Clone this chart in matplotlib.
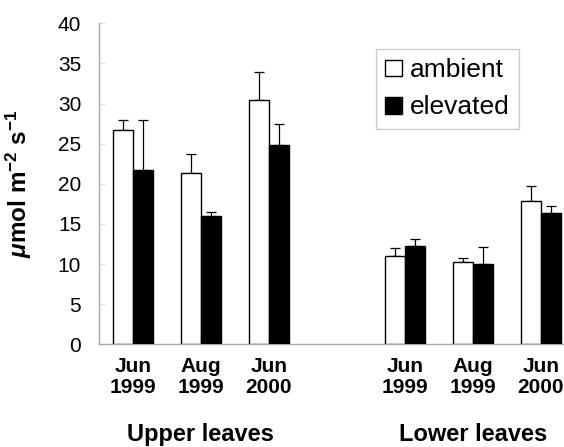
import numpy as np
import matplotlib
matplotlib.use("Agg")
import matplotlib.pyplot as plt

plt.rcParams['font.family'] = ['Liberation Sans', 'DejaVu Sans']
plt.rcParams['mathtext.fontset'] = 'custom'
plt.rcParams['mathtext.rm'] = 'Liberation Sans:bold'
plt.rcParams['mathtext.bf'] = 'Liberation Sans:bold'
plt.rcParams['mathtext.it'] = 'Liberation Sans:italic:bold'

# ---- data ----
tick_labels = ["Jun\n1999", "Aug\n1999", "Jun\n2000", "Jun\n1999", "Aug\n1999", "Jun\n2000"]
group_labels = ["Upper leaves", "Lower leaves"]
series_names = ["ambient", "elevated"]
ambient = [26.7, 21.4, 30.5, 11.0, 10.25, 17.8]
ambient_err = [1.3, 2.3, 3.4, 1.0, 0.45, 1.9]
elevated = [21.7, 16.0, 24.8, 12.25, 9.95, 16.4]
elevated_err = [6.3, 0.5, 2.6, 0.9, 2.15, 0.8]
y_ticks = [0, 5, 10, 15, 20, 25, 30, 35, 40]

# ---- layout ----
x = np.array([0, 1, 2, 4, 5, 6], dtype=float)
w = 0.294
spine_col = '#a8a8a8'

fig = plt.figure(figsize=(5.64, 4.47), dpi=100)
ax = fig.add_axes([99.3 / 564, (447 - 344.3) / 447, (564 - 99.3) / 564, 321 / 447])

ax.bar(x - w / 2, ambient, width=w, color='white', edgecolor='black', linewidth=1.0,
       label=series_names[0], zorder=3)
ax.bar(x + w / 2, elevated, width=w, color='black', edgecolor='black', linewidth=1.0,
       label=series_names[1], zorder=3)
ax.errorbar(x - w / 2, ambient, yerr=[np.zeros(len(ambient)), ambient_err], fmt='none',
            ecolor='black', elinewidth=0.9, capsize=3.3, capthick=0.9, zorder=2)
ax.errorbar(x + w / 2, elevated, yerr=[np.zeros(len(elevated)), elevated_err], fmt='none',
            ecolor='black', elinewidth=0.9, capsize=3.3, capthick=0.9, zorder=2)

ax.set_xlim(-0.491, 6.343)
ax.set_ylim(0, 40)
ax.set_yticks(y_ticks)
ax.set_yticklabels([str(v) for v in y_ticks], fontsize=15)
ax.set_xticks(x)
ax.set_xticklabels(tick_labels, fontsize=15, fontweight='bold', linespacing=1.15)

ax.tick_params(axis='y', direction='in', length=4, color='#dddddd', pad=13)
ax.tick_params(axis='x', length=0, pad=9)

for s in ['top', 'right']:
    ax.spines[s].set_visible(False)
for s in ['left', 'bottom']:
    ax.spines[s].set_color(spine_col)
    ax.spines[s].set_linewidth(1.0)

ax.set_ylabel(r'$\mathit{\mu}$mol m$^{-2}$ s$^{-1}$', fontsize=17.5, fontweight='bold')
ax.yaxis.set_label_coords(-0.14, 0.5)

# group labels
trans = ax.get_xaxis_transform()
for lab, xc in zip(group_labels, [x[1], x[4]]):
    ax.text(xc, -0.3, lab, transform=trans, ha='center', va='baseline',
            fontsize=17, fontweight='bold')

leg = ax.legend(loc='upper left', bbox_to_anchor=(376 / 564, 1 - 49 / 447),
                bbox_transform=fig.transFigure, fontsize=19, frameon=True,
                fancybox=False, shadow=False, handlelength=0.63, handleheight=0.6,
                handletextpad=0.3, labelspacing=0.5, borderpad=0.35, borderaxespad=0)
leg.get_frame().set_edgecolor('#c0c0c0')
leg.get_frame().set_linewidth(1.0)

fig.savefig('out.png', dpi=100)
